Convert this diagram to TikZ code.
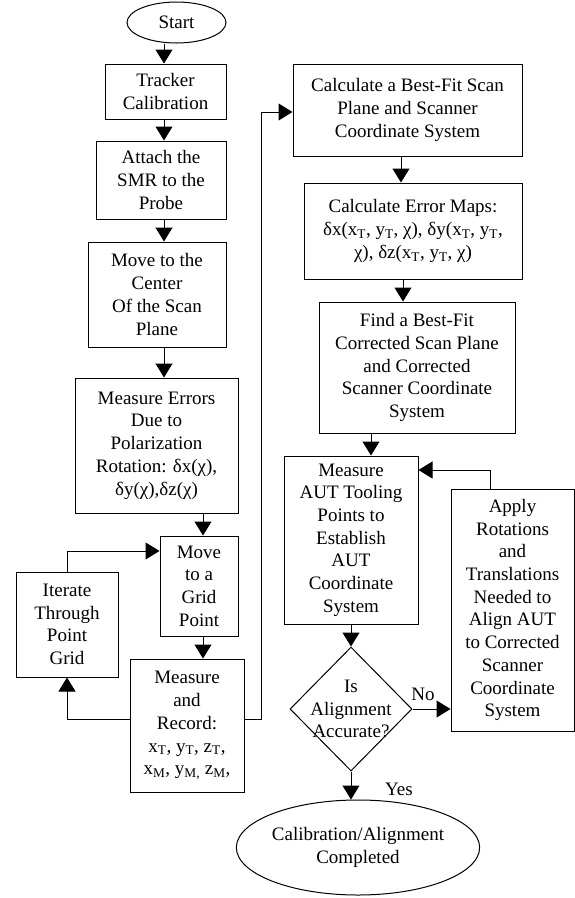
\documentclass[tikz,border=0pt]{standalone}
\usepackage{fontspec}
\setmainfont{Liberation Serif}
\usetikzlibrary{shapes.geometric,arrows.meta}

\tikzset{
	txt/.style={font=\fontsize{19}{22.7}\selectfont, align=center, inner sep=0pt},
	proc/.style={txt, draw, line width=1pt, rectangle},
	term/.style={txt, draw, line width=1pt, ellipse},
	arr/.style={line width=1pt, -{Triangle[length=14pt,width=17pt]}},
	line/.style={line width=1pt}
}

\begin{document}
\begin{tikzpicture}[x=1pt,y=-1pt]
	\useasboundingbox (0,0) rectangle (575,898);
	\coordinate (colA) at (164,0);
	\coordinate (colB) at (203,0);
	\coordinate (loop) at (261,719);
	\coordinate (gtop) at (0,551);
	\coordinate (ftop) at (0,112);
	\coordinate (back) at (490,470);

	\node[term, minimum width=99, minimum height=41] (start) at (176.5,22.5) {Start};
	\node[proc, minimum width=121, minimum height=55] (track) at (165.5,91.5) {Tracker\\Calibration};
	\node[proc, minimum width=130, minimum height=78] (attach) at (161,180) {Attach the\\SMR to the\\Probe};
	\node[proc, minimum width=138, minimum height=105] (center) at (157,294.5) {Move to the\\Center\\Of the Scan\\Plane};
	\node[proc, minimum width=163, minimum height=135] (errs) at (156.5,445.5) {Measure Errors\\Due to\\Polarization\\Rotation: δx(χ),\\δy(χ),δz(χ)};
	\node[proc, minimum width=78, minimum height=100] (grid) at (199,586) {Move\\to a\\Grid\\Point};
	\node[proc, minimum width=102, minimum height=105] (iter) at (67,624.5) {Iterate\\Through\\Point\\Grid};
	\node[proc, minimum width=114, minimum height=133] (record) at (187,725.5) {Measure\\and\\Record:\\x\textsubscript{T}, y\textsubscript{T}, z\textsubscript{T},\\x\textsubscript{M}, y\textsubscript{M,} z\textsubscript{M},};

	\node[proc, minimum width=229, minimum height=92] (fit) at (407.5,110) {Calculate a Best-Fit Scan\\Plane and Scanner\\Coordinate System};
	\node[proc, minimum width=218, minimum height=96] (maps) at (413,231) {Calculate Error Maps:\\δx(x\textsubscript{T}, y\textsubscript{T}, χ), δy(x\textsubscript{T}, y\textsubscript{T},\\χ), δz(x\textsubscript{T}, y\textsubscript{T}, χ)};
	\node[proc, minimum width=196, minimum height=131] (cfit) at (417,367.5) {Find a Best-Fit\\Corrected Scan Plane\\and Corrected\\Scanner Coordinate\\System};
	\node[proc, minimum width=134, minimum height=168] (aut) at (351,540) {Measure\\AUT Tooling\\Points to\\Establish\\AUT\\Coordinate\\System};
	\node[proc, minimum width=123, minimum height=242] (apply) at (512.5,610) {Apply\\Rotations\\and\\Translations\\Needed to\\Align AUT\\to Corrected\\Scanner\\Coordinate\\System};
	\node[draw, line width=1pt, diamond, inner sep=0pt, minimum width=122, minimum height=124,
		label={[txt]center:Is\\Alignment\\Accurate?}] (acc) at (351,709) {};
	\node[term, minimum width=214, minimum height=95] (done) at (358,847.5) {Calibration/Alignment\\Completed};
	\node[txt] (no) at (423,694) {No};
	\node[txt] (yes) at (399,789) {Yes};

	\draw[arr] (start.south -| colA) -- (track.north -| colA);
	\draw[arr] (track.south -| colA) -- (attach.north -| colA);
	\draw[arr] (attach.south -| colA) -- (center.north -| colA);
	\draw[arr] (center.south -| colA) -- (errs.north -| colA);
	\draw[arr] (errs.south -| colB) -- (grid.north -| colB);
	\draw[arr] (grid.south -| colB) -- (record.north -| colB);
	\draw[arr] (record.west |- loop) -| (iter.south);
	\draw[arr] (iter.north) |- (grid.west |- gtop);
	\draw[arr] (record.east |- loop) -- (loop) |- (fit.west |- ftop);
	\draw[arr] ([xshift=-6.5pt]fit.south) -- ([xshift=-6.5pt]fit.south |- maps.north);
	\draw[arr] ([xshift=-10pt]maps.south) -- ([xshift=-10pt]maps.south |- cfit.north);
	\draw[arr] ([xshift=-46pt]cfit.south) -- ([xshift=-46pt]cfit.south |- aut.north);
	\draw[arr] (aut.south) -- (acc.north);
	\draw[arr] (acc.east) -- (apply.west |- acc.east);
	\draw[arr] (apply.north -| back) |- (aut.east |- back);
	\draw[arr] (acc.south) -- (acc.south |- done.north);
\end{tikzpicture}
\end{document}
